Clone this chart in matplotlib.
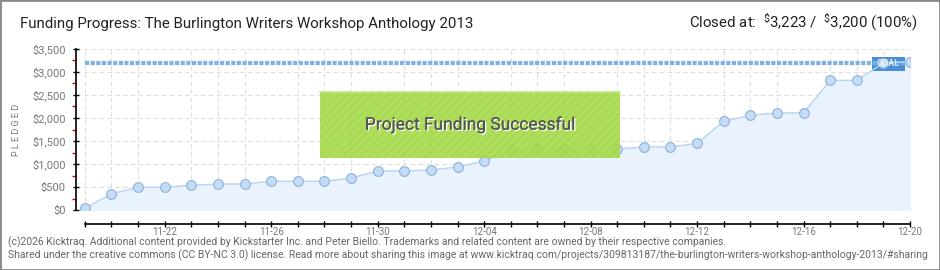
import pandas as pd
import matplotlib
matplotlib.use("Agg")
import matplotlib.pyplot as plt
import matplotlib.dates as mdates
import matplotlib.patheffects as pe
from matplotlib.patches import Rectangle
from matplotlib.ticker import MultipleLocator, FuncFormatter

# data
dates = pd.date_range('2013-11-19', '2013-12-20', freq='D')
pledged = [40, 350, 495, 495, 537, 565, 565, 623, 623, 623, 696, 848,
           848, 870, 935, 1065, 1297, 1326, 1326, 1326, 1326, 1370, 1370,
           1449, 1928, 2058, 2109, 2109, 2818, 2818, 3200, 3223]
goal = 3200
title = 'Funding Progress: The Burlington Writers Workshop Anthology 2013'
closed_text = r'Closed at:  $^{\$}$3,223 /  $^{\$}$3,200 (100%)'
footer_1 = ('(c)2026 Kicktraq. Additional content provided by Kickstarter Inc. and Peter Biello. '
            'Trademarks and related content are owned by their respective companies.')
footer_2 = ('Shared under the creative commons (CC BY-NC 3.0) license. Read more about sharing this image at '
            'www.kicktraq.com/projects/309813187/the-burlington-writers-workshop-anthology-2013/#sharing')

plt.rcParams['font.family'] = ['Roboto', 'DejaVu Sans']
plt.rcParams['mathtext.default'] = 'regular'
plt.rcParams['hatch.linewidth'] = 0.4

W, H = 940, 270
fig = plt.figure(figsize=(W / 100, H / 100), dpi=100)
ax = fig.add_axes([76 / W, 1 - 210 / H, 834 / W, 161 / H])

# area + line + markers
ax.fill_between(dates, pledged, 0, color='#eaf3fd', zorder=1)
ax.plot(dates, pledged, color='#b7d4f2', lw=1, zorder=4)
ax.plot(dates, pledged, 'o', ms=7, mfc='#c4ddf7', mec='#8eb0d8', mew=0.8, zorder=5)

# goal line and label
ax.hlines(goal, dates[0], dates[-1], color='#7db2e6', lw=3, linestyles=(0, (1, 0.35)), zorder=3)
ax.add_patch(Rectangle((872 / W, 1 - 71 / H), 33 / W, 14 / H, transform=fig.transFigure,
                       facecolor='#4a8fd6', edgecolor='none', zorder=2))
fig.text(888 / W, 1 - 64 / H, 'GOAL', color='white', fontsize=6.5, ha='center', va='center',
         zorder=3)

# success banner
banner = Rectangle((0.2926, 0.323), 0.3597, 0.41, transform=ax.transAxes,
                   facecolor='#a6da4a', edgecolor='#9acd40', hatch='////', alpha=0.9,
                   lw=0, zorder=6)
ax.add_patch(banner)
ax.add_line(plt.Line2D([0.2926, 0.6523], [0.733, 0.733], transform=ax.transAxes,
                       color='#c4e98a', lw=1.2, zorder=7))
ax.text(0.4725, 0.53, 'Project Funding Successful', transform=ax.transAxes,
        ha='center', va='center', fontsize=12.5, color='#555555', zorder=8,
        path_effects=[pe.withSimplePatchShadow(offset=(1, -1), shadow_rgbFace='white', alpha=1),
                      pe.Normal()])

# axes styling
ax.set_xlim(dates[0] - pd.Timedelta(hours=8), dates[-1])
ax.set_ylim(0, 3500)
for s in ['top', 'right']:
    ax.spines[s].set_visible(False)
ax.spines['bottom'].set_position(('outward', 10))
ax.spines['bottom'].set_bounds(mdates.date2num(dates[0]), mdates.date2num(dates[-1]))
ax.spines['left'].set_linewidth(1.2)
ax.spines['bottom'].set_linewidth(1.2)

ax.set_xticks(dates[3::4])
ax.set_xticks(dates, minor=True)
ax.xaxis.set_major_formatter(mdates.DateFormatter('%m-%d'))
ax.yaxis.set_major_locator(MultipleLocator(500))
ax.yaxis.set_minor_locator(MultipleLocator(250))
ax.yaxis.set_major_formatter(FuncFormatter(lambda v, p: '${:,.0f}'.format(v)))

ax.tick_params(axis='x', which='both', direction='inout', length=5, width=1, pad=0,
               labelsize=7, labelcolor='#777777')
ax.tick_params(axis='y', which='major', direction='inout', length=5, width=1, pad=5,
               labelsize=8, labelcolor='#777777')
ax.tick_params(axis='y', which='minor', direction='out', length=3, width=1, color='#e00000')

ax.grid(True, which='minor', axis='x', color='#dedede', lw=0.8, ls=(0, (4, 3)), zorder=0)
ax.grid(True, which='major', axis='y', color='#dedede', lw=0.8, ls=(0, (4, 3)), zorder=0)
ax.set_axisbelow(True)
ax.set_ylabel('P L E D G E D', fontsize=6.5, color='#777777')
ax.yaxis.set_label_coords(-0.066, 0.5)

# header and footer texts
fig.text(20 / W, 1 - 28 / H, title, fontsize=10.8, color='#222222', va='baseline')
fig.text(918 / W, 1 - 28 / H, closed_text, fontsize=10.8, color='#222222', va='baseline', ha='right')
fig.text(8 / W, 1 - 245 / H, footer_1, fontsize=7.5, color='#666666', va='baseline')
fig.text(8 / W, 1 - 258 / H, footer_2, fontsize=7.5, color='#666666', va='baseline')

fig.patches.append(Rectangle((0, 0), 1, 1, transform=fig.transFigure, fill=False,
                             edgecolor='#8a8a8a', lw=2))

plt.savefig('out.png', dpi=100)
